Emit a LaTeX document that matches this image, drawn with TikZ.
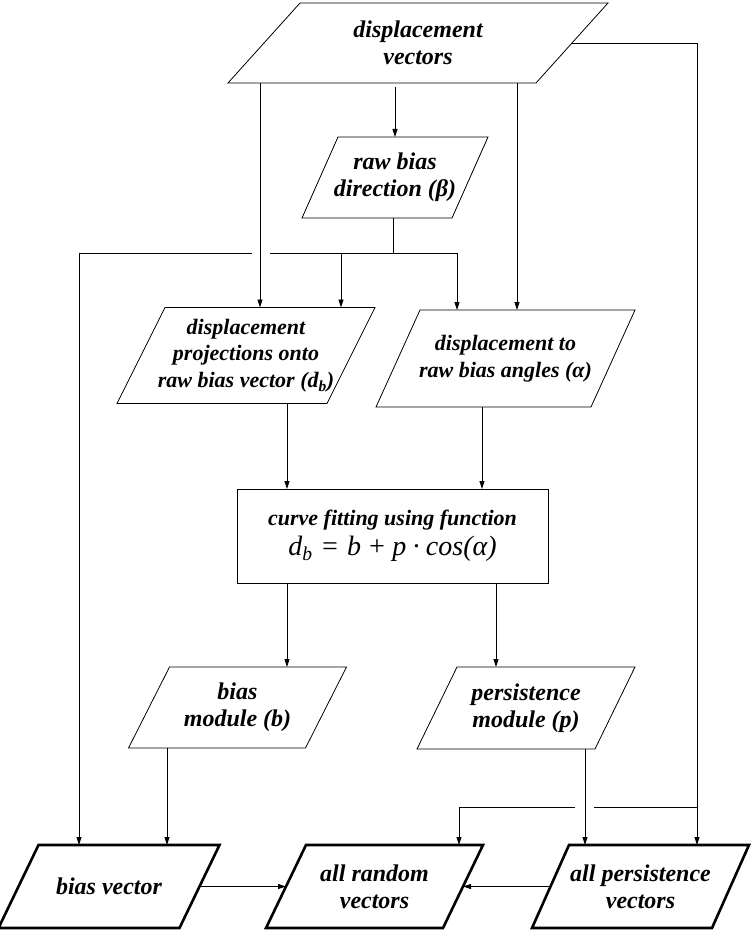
\documentclass[tikz,border=0pt]{standalone}
\usepackage{fontspec}
\setmainfont{Liberation Serif}
\usetikzlibrary{arrows.meta}
\newcommand{\pgram}[3][]{\draw[#1] ([xshift=#3/2]#2.north west) -- ([xshift=#3/2]#2.north east) -- ([xshift=-#3/2]#2.south east) -- ([xshift=-#3/2]#2.south west) -- cycle;}
\begin{document}
\begin{tikzpicture}[x=1pt,y=-1pt,
  box/.style={inner sep=0pt, outer sep=0pt, align=center, font=\fontsize{22}{26.7}\selectfont\bfseries\itshape},
  big/.style={font=\fontsize{24}{27}\selectfont\bfseries\itshape},
  conn/.style={line width=0.8pt},
  arr/.style={conn, -{Triangle[length=8pt,width=5pt]}},
  pthin/.style={line width=0.8pt},
  pthick/.style={line width=2.6pt}]
\useasboundingbox (0,0) rectangle (750,931);

% boxes
\node[box,big,minimum width=308pt,minimum height=80pt] (dv) at (418,43) {displacement\\vectors};
\pgram[pthin]{dv}{72}
\node[box,big,minimum width=150pt,minimum height=81pt] (rb) at (395,177.5) {raw bias\\direction (β)};
\pgram[pthin]{rb}{36}
\node[box,minimum width=210pt,minimum height=96pt] (proj) at (246,355.5) {displacement\\projections onto\\raw bias vector (d\textsubscript{b})};
\pgram[pthin]{proj}{48}
\node[box,minimum width=215pt,minimum height=97pt] (ang) at (505.5,358.5) {displacement to\\raw bias angles (α)};
\pgram[pthin]{ang}{44}
\node[box,draw,pthin,minimum width=311pt,minimum height=94pt] (cf) at (392.5,536) {curve fitting using function\\[3pt]{\fontsize{28}{30}\selectfont\mdseries\itshape d\textsubscript{b}\;=\;b\:+\:p\:·\:cos(α)}};
\node[box,big,minimum width=177pt,minimum height=81pt] (bm) at (237.5,707.5) {bias\\module (b)};
\pgram[pthin]{bm}{41}
\node[box,big,minimum width=178pt,minimum height=82pt] (pm) at (526,708) {persistence\\module (p)};
\pgram[pthin]{pm}{40}
\node[box,big,minimum width=181pt,minimum height=83pt] (bv) at (109,886.5) {bias vector};
\pgram[pthick]{bv}{40}
\node[box,big,minimum width=177pt,minimum height=83pt] (arv) at (374.5,886.5) {all random\\vectors};
\pgram[pthick]{arv}{40}
\node[box,big,minimum width=180pt,minimum height=83pt] (apv) at (640.5,886.5) {all persistence\\vectors};
\pgram[pthick]{apv}{37}

% column coordinates
\coordinate (cA) at (260,0);
\coordinate (cB) at (395,0);
\coordinate (cC) at (517,0);
\coordinate (cR) at (697,0);
\coordinate (cL) at (79,0);
\coordinate (cD) at (341,0);
\coordinate (cE) at (457,0);
\coordinate (cF) at (287,0);
\coordinate (cG) at (482,0);
\coordinate (cH) at (496,0);
\coordinate (cI) at (167,0);
\coordinate (cJ) at (585,0);
\coordinate (jb) at (393,253);
\coordinate (g1) at (252,253);
\coordinate (g2) at (270,253);
\coordinate (jp) at (459,807);
\coordinate (g3) at (575,807);
\coordinate (g4) at (594,807);

% connectors
\draw[arr,shorten <=4pt] (cB |- dv.south) -- (cB |- rb.north);
\draw[arr] (cA |- dv.south) -- (cA |- proj.north);
\draw[arr] (cC |- dv.south) -- (cC |- ang.north);
\draw[arr] (dv.east) -| (cR |- apv.north);
\draw[conn] (jb |- rb.south) -- (jb);
\draw[arr] (g1) -- (cL |- jb) -- (cL |- bv.north);
\draw[arr] (g2) -- (cE |- jb) -- (cE |- ang.north);
\draw[arr] (cD |- jb) -- (cD |- proj.north);
\draw[arr] (cF |- proj.south) -- (cF |- cf.north);
\draw[arr] (cG |- ang.south) -- (cG |- cf.north);
\draw[arr] (cF |- cf.south) -- (cF |- bm.north);
\draw[arr] (cH |- cf.south) -- (cH |- pm.north);
\draw[arr] (cI |- bm.south) -- (cI |- bv.north);
\draw[arr] (cJ |- pm.south) -- (cJ |- apv.north);
\draw[conn] (cR |- jp) -- (g4);
\draw[arr] (g3) -- (jp) -- (jp |- arv.north);
\draw[arr] (bv.east) -- (arv.west);
\draw[arr] (apv.west) -- (arv.east);
\end{tikzpicture}
\end{document}
